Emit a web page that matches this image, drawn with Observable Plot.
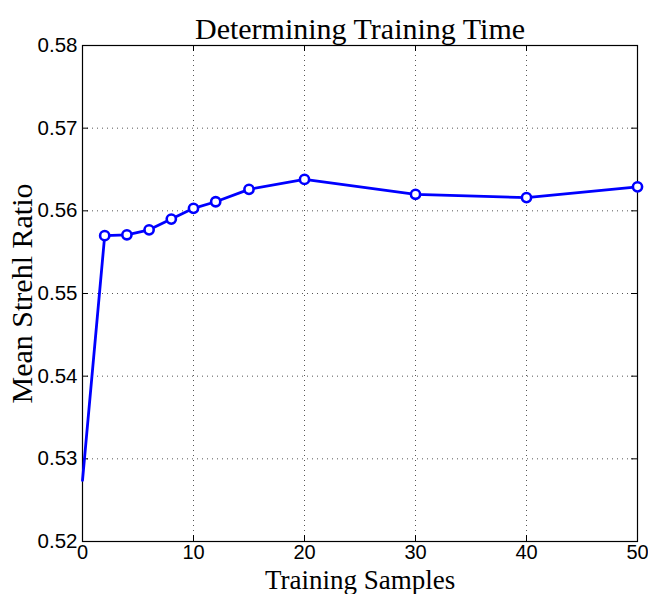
<!DOCTYPE html>
<html><head><meta charset="utf-8">
<script src="https://cdn.jsdelivr.net/npm/d3@7"></script>
<script src="https://cdn.jsdelivr.net/npm/@observablehq/plot@0.6"></script>
<style>body{margin:0;background:#fff}</style>
</head><body><div id="chart"></div>
<script>
const samples = [0, 2, 4, 6, 8, 10, 12, 15, 20, 30, 40, 50];
const strehl = [0.5274, 0.5570, 0.5571, 0.5577, 0.5590, 0.5603, 0.5611, 0.5626, 0.5638, 0.5620, 0.5616, 0.5629];
const markerSamples = [2, 4, 6, 8, 10, 12, 15, 20, 30, 40, 50];
const xTicks = [0, 10, 20, 30, 40, 50];
const yTicks = [0.52, 0.53, 0.54, 0.55, 0.56, 0.57, 0.58];
const title = "Determining Training Time";
const xLabel = "Training Samples";
const yLabel = "Mean Strehl Ratio";

const data = samples.map((s, i) => ({s, v: strehl[i]}));
const markers = data.filter(d => markerSamples.includes(d.s));

const W = 648, H = 594, mL = 82, mR = 11, mT = 45, mB = 53;
const fw = W - mL - mR, fh = H - mT - mB;
const serif = "'Liberation Serif', 'DejaVu Serif', serif";
const sans = "'Liberation Sans', Arial, sans-serif";

const chart = Plot.plot({
  width: W, height: H,
  marginLeft: mL, marginRight: mR, marginTop: mT, marginBottom: mB,
  style: {background: "#fff", overflow: "visible"},
  x: {domain: [0, 50], axis: null},
  y: {domain: [0.52, 0.58], axis: null},
  marks: [
    Plot.ruleX(xTicks.slice(1, -1), {stroke: "#555", strokeWidth: 1, strokeDasharray: "1,4"}),
    Plot.ruleY(yTicks.slice(1, -1), {stroke: "#555", strokeWidth: 1, strokeDasharray: "1,4"}),
    Plot.ruleX(xTicks, {stroke: "#000", insetTop: fh - 6}),
    Plot.ruleX(xTicks, {stroke: "#000", insetBottom: fh - 6}),
    Plot.ruleY(yTicks, {stroke: "#000", insetRight: fw - 6}),
    Plot.ruleY(yTicks, {stroke: "#000", insetLeft: fw - 6}),
    Plot.frame({stroke: "#000", strokeWidth: 1.2}),
    Plot.axisX(xTicks, {tickSize: 0, tickPadding: 3, fontSize: 20, fontFamily: sans, fill: "#000", label: null}),
    Plot.axisY(yTicks, {tickSize: 0, tickPadding: 5, fontSize: 20.5, fontFamily: sans, fill: "#000", label: null, tickFormat: d3.format(".2f")}),
    Plot.line(data, {x: "s", y: "v", stroke: "#0000ff", strokeWidth: 2.8}),
    Plot.dot(markers, {x: "s", y: "v", r: 4.6, stroke: "#0000ff", strokeWidth: 2.6, fill: "#fff"}),
    Plot.text([title], {frameAnchor: "top", dy: -7, text: d => d, fontSize: 30, fontFamily: serif, fill: "#000", lineAnchor: "bottom"}),
    Plot.text([xLabel], {frameAnchor: "bottom", dy: 47, text: d => d, fontSize: 27, fontFamily: serif, fill: "#000", lineAnchor: "bottom"}),
    Plot.text([yLabel], {frameAnchor: "left", dx: -60, rotate: -90, textAnchor: "middle", text: d => d, fontSize: 30, fontFamily: serif, fill: "#000"})
  ]
});
document.getElementById("chart").appendChild(chart);
</script>
</body></html>
